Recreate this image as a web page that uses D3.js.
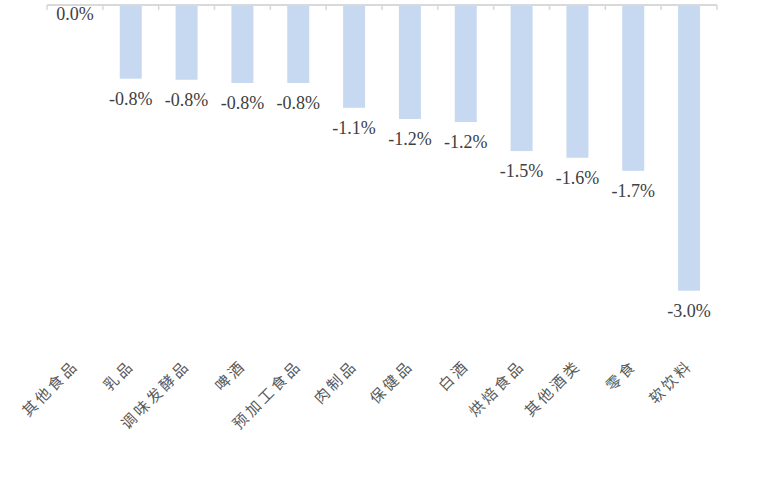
<!DOCTYPE html>
<html>
<head>
<meta charset="utf-8">
<script src="https://cdn.jsdelivr.net/npm/d3@7"></script>
<style>
  html, body { margin: 0; padding: 0; background: #fff; }
  svg { display: block; }
</style>
</head>
<body>
<div id="chart"></div>
<script>
const categories = ["其他食品", "乳品", "调味发酵品", "啤酒", "预加工食品", "肉制品", "保健品", "白酒", "烘焙食品", "其他酒类", "零食", "软饮料"];
const values = [0.0, -0.774, -0.785, -0.819, -0.819, -1.079, -1.197, -1.229, -1.534, -1.604, -1.741, -3.0];
const yDomain = [-3.0, 0];

const W = 760, H = 486;
const svg = d3.select("#chart").append("svg").attr("width", W).attr("height", H);

const x = d3.scaleBand().domain(categories).range([47, 717]).paddingInner(0.606).paddingOuter(0.303);
const y = d3.scaleLinear().domain(yDomain).range([290.7, 5]);

const data = categories.map((c, i) => ({ c, v: values[i] }));

// bars
svg.append("g").selectAll("rect").data(data).join("rect")
  .attr("x", d => x(d.c))
  .attr("y", d => y(0))
  .attr("width", x.bandwidth())
  .attr("height", d => y(d.v) - y(0))
  .attr("fill", "#c6d9f0");

// axis line + ticks at category boundaries
const step = x.step();
const gAxis = svg.append("g");
gAxis.append("line")
  .attr("x1", x.range()[0]).attr("x2", x.range()[1])
  .attr("y1", y(0)).attr("y2", y(0))
  .attr("stroke", "#d9d9d9").attr("stroke-width", 2);
const bounds = d3.range(categories.length + 1).map(i => x.range()[0] + i * step);
gAxis.selectAll("line.tick").data(bounds).join("line")
  .attr("class", "tick")
  .attr("x1", d => d).attr("x2", d => d)
  .attr("y1", y(0)).attr("y2", y(0) + 5)
  .attr("stroke", "#d9d9d9").attr("stroke-width", 1.5);

// value labels
const fmt = v => d3.format(".1f")(v).replace("−", "-") + "%";
svg.append("g").selectAll("text").data(data).join("text")
  .attr("x", d => x(d.c) + x.bandwidth() / 2)
  .attr("y", d => y(d.v) + (d.v === 0 ? 15 : 26))
  .attr("text-anchor", "middle")
  .attr("font-family", "'Liberation Serif', 'Times New Roman', serif")
  .attr("font-size", 18)
  .attr("fill", "#404040")
  .text(d => fmt(d.v));

// category labels
svg.append("g").selectAll("text").data(data).join("text")
  .attr("transform", d => `translate(${x(d.c) + x.bandwidth() / 2 + 4.5},${366.5}) rotate(-45)`)
  .attr("text-anchor", "end")
  .attr("font-family", "'Noto Sans CJK SC', sans-serif")
  .attr("font-size", 15)
  .attr("letter-spacing", 3)
  .attr("fill", "#595959")
  .text(d => d.c);
</script>
</body>
</html>
